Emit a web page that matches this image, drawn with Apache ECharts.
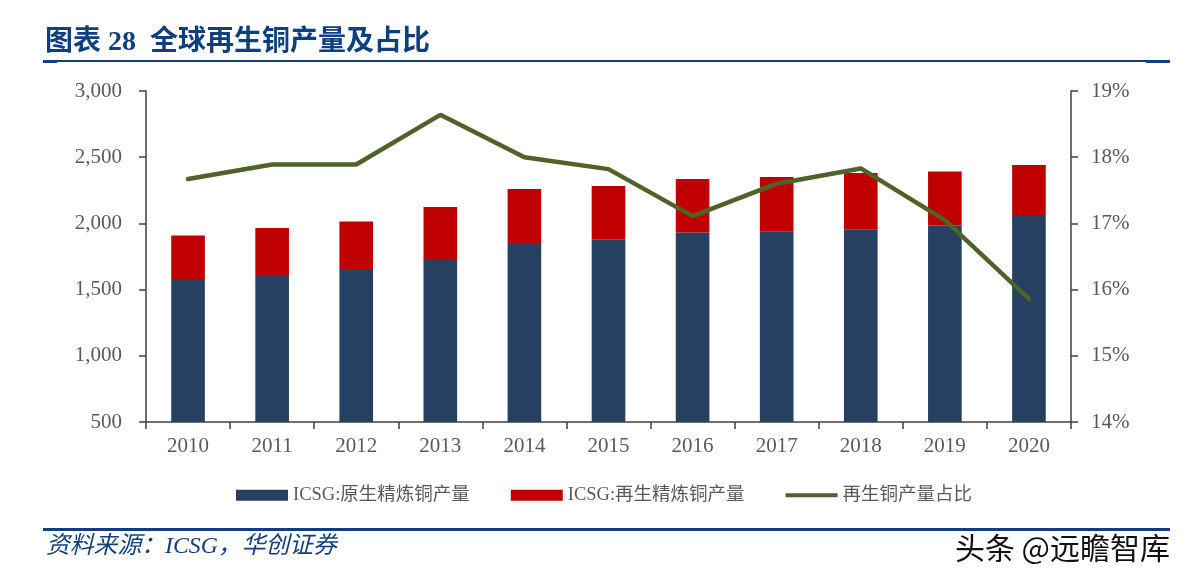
<!DOCTYPE html>
<html><head><meta charset="utf-8">
<style>html,body{margin:0;padding:0;background:#fff}#c{width:1188px;height:581px}</style>
<script src="https://cdn.jsdelivr.net/npm/echarts@6/dist/echarts.min.js"></script>
</head><body><div id="c"></div>
<script>
const years = ['2010','2011','2012','2013','2014','2015','2016','2017','2018','2019','2020'];
const primary = [1572,1610,1655,1724,1852,1880,1932,1940,1955,1985,2056];
const recycled = [337,355,359,400,408,402,403,410,425,407,385];
const share = [17.67,17.89,17.89,18.64,18.0,17.82,17.11,17.6,17.83,17.05,15.86];
const leftTicks = {min:500,max:3000,interval:500};
const rightTicks = {min:14,max:19,interval:1};
const names = ['ICSG:原生精炼铜产量','ICSG:再生精炼铜产量','再生铜产量占比'];
const serif = '"Liberation Serif","Noto Sans CJK SC",serif';
const BLUE = '#0F3F7F', GREY = '#595959', AXIS = '#404040';
const axisLine = {show:true,lineStyle:{color:AXIS,width:1.5}};
const axisTick = {show:true,length:7,lineStyle:{color:AXIS,width:1.5}};
const chart = echarts.init(document.getElementById('c'),null,{renderer:'canvas'});
chart.setOption({
  animation:false,
  backgroundColor:'#fff',
  title:{text:'图表 28  全球再生铜产量及占比',left:40,top:24,
    textStyle:{fontFamily:serif,fontSize:28,fontWeight:'bold',color:BLUE}},
  grid:{left:146,right:117,top:91,bottom:159},
  legend:{left:231,top:481,itemWidth:52,itemHeight:11,itemGap:41,
    data:[{name:names[0],icon:'rect'},{name:names[1],icon:'rect'},
      {name:names[2],icon:'path://M0,0 L0,0 M0,3.5 H52 V7.5 H0 Z M0,11 L0,11',itemStyle:{color:'#4F6228'}}],
    textStyle:{fontFamily:serif,fontSize:18.5,color:GREY}},
  xAxis:{type:'category',data:years,axisLine,axisTick:{...axisTick,alignWithLabel:false},
    axisLabel:{fontFamily:serif,fontSize:21,color:GREY,margin:14}},
  yAxis:[
    {type:'value',...leftTicks,position:'left',axisLine,axisTick,splitLine:{show:false},
      axisLabel:{fontFamily:serif,fontSize:21,color:GREY,margin:24,padding:[4,0,0,0],
        formatter:v=>v.toLocaleString('en-US')}},
    {type:'value',...rightTicks,position:'right',axisLine,axisTick,splitLine:{show:false},
      axisLabel:{fontFamily:serif,fontSize:21,color:GREY,margin:20,padding:[4,0,0,0],formatter:'{value}%'}}
  ],
  series:[
    {name:names[0],type:'bar',stack:'a',data:primary,barWidth:'40%',itemStyle:{color:'#254061'}},
    {name:names[1],type:'bar',stack:'a',data:recycled,barWidth:'40%',itemStyle:{color:'#C00000'}},
    {name:names[2],type:'line',yAxisIndex:1,data:share,symbol:'none',
      lineStyle:{color:'#4F6228',width:4.5,cap:'round'},itemStyle:{color:'#4F6228'}}
  ],
  graphic:[
    {type:'rect',shape:{x:43,y:60,width:1127,height:2},style:{fill:BLUE}},
    {type:'rect',shape:{x:43,y:60,width:14,height:3},style:{fill:BLUE}},
    {type:'rect',shape:{x:1146,y:60,width:24,height:3},style:{fill:BLUE}},
    {type:'rect',shape:{x:43,y:528,width:1127,height:3},style:{fill:BLUE}},
    {type:'text',x:46,y:547,style:{text:'资料来源：ICSG，华创证券',fontFamily:serif,fontStyle:'italic',
      fontSize:23.8,fill:BLUE,verticalAlign:'middle'}},
    {type:'text',x:1170,y:548,style:{text:'头条 @远瞻智库',fontFamily:'"Noto Sans CJK SC",sans-serif',
      fontSize:30,fill:'#111',align:'right',verticalAlign:'middle'}}
  ]
});
</script></body></html>
